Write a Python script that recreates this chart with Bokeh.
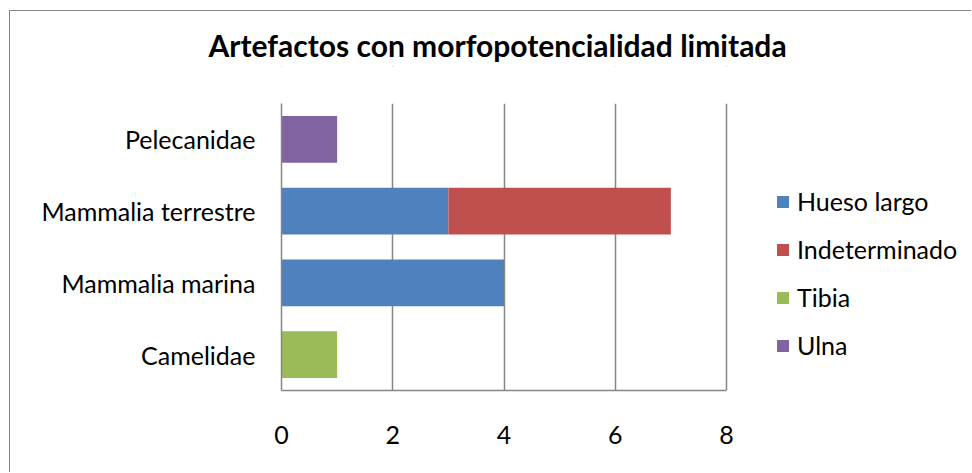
from bokeh.plotting import figure
from bokeh.models import FactorRange, Range1d, Legend, LegendItem, ColumnDataSource, FixedTicker, LinearAxis
from bokeh.embed import file_html
from bokeh.resources import INLINE

categories = ["Camelidae", "Mammalia marina", "Mammalia terrestre", "Pelecanidae"]
series = ["Hueso largo", "Indeterminado", "Tibia", "Ulna"]
hueso_largo = [0, 4, 3, 0]
indeterminado = [0, 0, 4, 0]
tibia = [1, 0, 0, 0]
ulna = [0, 0, 0, 1]
colors = ["#4F81BD", "#C0504D", "#9BBB59", "#8064A2"]
x_ticks = [0, 2, 4, 6, 8]
axis_max = 8
title_text = "Artefactos con morfopotencialidad limitada"

source = ColumnDataSource(dict(cat=categories, **{
    "Hueso largo": hueso_largo,
    "Indeterminado": indeterminado,
    "Tibia": tibia,
    "Ulna": ulna,
}))

FONT = "Lato"
GRID = "#868686"

# plot frame spans to the right edge; the value axis itself stops at axis_max
frame_left, axis_right_px, frame_right = 271, 716, 962
view_max = axis_max * (frame_right - frame_left) / (axis_right_px - frame_left)

p = figure(width=962, height=462,
           y_range=FactorRange(*categories), x_range=Range1d(0, view_max),
           output_backend="svg", toolbar_location=None,
           min_border_left=frame_left, min_border_right=0,
           min_border_top=92, min_border_bottom=83,
           margin=(10, 0, 0, 9),
           styles={"border-left": "1px solid #868686", "border-top": "1px solid #868686"})

renderers = p.hbar_stack(series, y="cat", height=0.65, color=colors,
                         line_color=None, source=source)

# invisible, tick-less axis used only as a spacer between plot area and title
spacer = LinearAxis(ticker=FixedTicker(ticks=[]), major_tick_out=37, major_tick_in=0,
                    minor_tick_out=0, minor_tick_in=0, axis_line_color=None,
                    major_tick_line_color=None, minor_tick_line_color=None,
                    major_label_standoff=0, major_label_text_font_size="1px")
p.add_layout(spacer, "above")

p.title.text = title_text
p.title.text_font = FONT
p.title.text_font_style = "bold"
p.title.text_font_size = "30px"
p.title.align = "left"
p.title.offset = -73
p.title.standoff = 0
p.title.text_color = "#000000"

p.outline_line_color = None
p.ygrid.grid_line_color = None
p.xgrid.grid_line_color = GRID
p.xgrid.grid_line_width = 1.5
p.xgrid.bounds = (0, axis_max)
p.xaxis.ticker = FixedTicker(ticks=x_ticks)
p.xaxis.bounds = (0, axis_max)

for ax in (p.below[0], p.yaxis[0]):
    ax.axis_line_color = GRID
    ax.axis_line_width = 1.5
    ax.major_tick_line_color = None
    ax.minor_tick_line_color = None
    ax.major_tick_in = 0
    ax.major_tick_out = 0
    ax.major_label_text_font = FONT
    ax.major_label_text_font_size = "25px"
    ax.major_label_text_color = "#000000"

p.below[0].major_label_standoff = 35
p.yaxis[0].major_label_standoff = 26

items = [LegendItem(label=s, renderers=[r]) for s, r in zip(series, renderers)]
legend = Legend(items=items, location=(494, 30), padding=0, margin=0,
                glyph_width=15, glyph_height=15, label_standoff=7,
                spacing=18, label_text_font=FONT, label_text_font_size="25px",
                label_text_color="#000000",
                border_line_color=None, background_fill_alpha=0)
p.add_layout(legend, "center")

open("out.html", "w").write(file_html(p, INLINE))
